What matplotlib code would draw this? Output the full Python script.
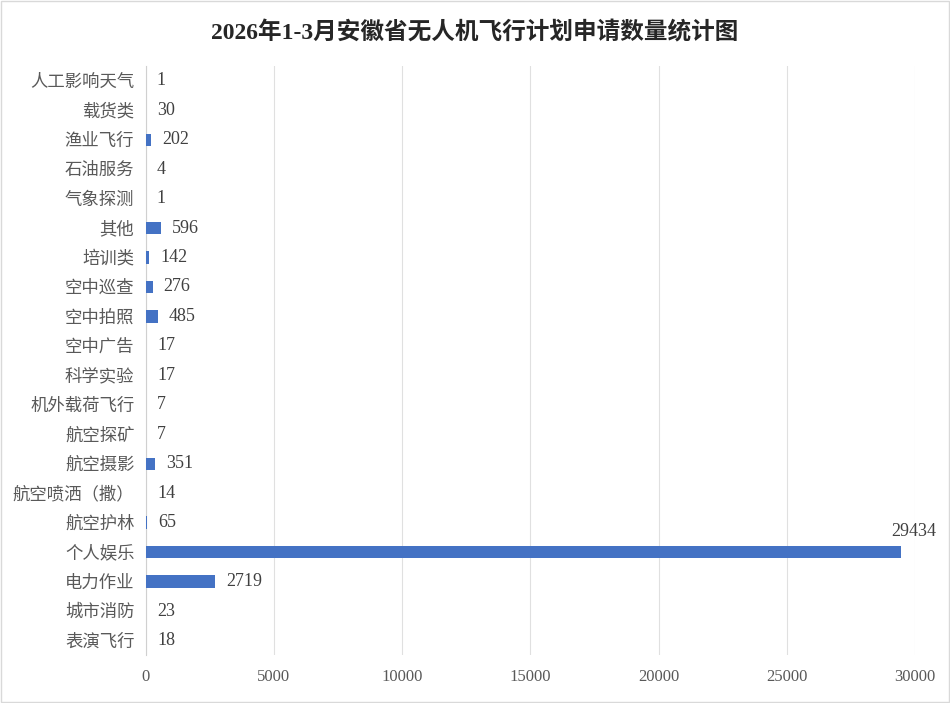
import matplotlib
matplotlib.use('Agg')
import matplotlib.pyplot as plt

plt.rcParams['font.family'] = ['Liberation Serif', 'Noto Sans CJK SC', 'DejaVu Sans']

# bottom to top, as drawn
categories = ['表演飞行', '城市消防', '电力作业', '个人娱乐', '航空护林', '航空喷洒（撒）',
              '航空摄影', '航空探矿', '机外载荷飞行', '科学实验', '空中广告', '空中拍照',
              '空中巡查', '培训类', '其他', '气象探测', '石油服务', '渔业飞行', '载货类',
              '人工影响天气']
counts = [18, 23, 2719, 29434, 65, 14, 351, 7, 7, 17, 17, 485, 276, 142, 596, 1, 4, 202, 30, 1]
xticks = [0, 5000, 10000, 15000, 20000, 25000, 30000]


def main():
    fig = plt.figure(figsize=(9.5, 7.03), dpi=100)
    ax = fig.add_axes([0.1532, 0.068, 0.81, 0.838])

    y = list(range(len(categories)))
    ax.barh(y, counts, height=0.42, color='#4472C4', zorder=3)

    ax.set_xlim(0, 30000)
    ax.set_ylim(-0.5, len(categories) - 0.5)
    ax.set_xticks(xticks)
    ax.set_xticklabels([str(t) for t in xticks])
    ax.set_yticks(y)
    ax.set_yticklabels(categories)
    ax.tick_params(axis='both', length=0, labelcolor='#595959')
    ax.tick_params(axis='y', pad=8, labelsize=12.5)
    ax.tick_params(axis='x', pad=10, labelsize=12)

    ax.grid(axis='x', color='#E0E0E0', linewidth=0.8, zorder=0)
    for s in ['top', 'right', 'bottom']:
        ax.spines[s].set_visible(False)
    ax.spines['left'].set_color('#D0D0D0')

    # value labels
    for yi, v in zip(y, counts):
        if v > 25000:
            ax.annotate(str(v), (v, yi), xytext=(26, 9), textcoords='offset points',
                        ha='right', va='bottom', fontsize=13, color='#404040')
        else:
            ax.annotate(str(v), (v, yi), xytext=(8, 0), textcoords='offset points',
                        ha='left', va='center', fontsize=13, color='#404040')

    fig.suptitle('2026年1-3月安徽省无人机飞行计划申请数量统计图', y=0.97,
                 fontsize=17, fontweight='bold', color='#262626')

    # light frame around the whole chart
    fig.patches.append(plt.Rectangle((0.001, 0.001), 0.998, 0.998, transform=fig.transFigure,
                                     fill=False, edgecolor='#D9D9D9', linewidth=1))

    fig.savefig('out.png', dpi=100)


if __name__ == '__main__':
    main()
